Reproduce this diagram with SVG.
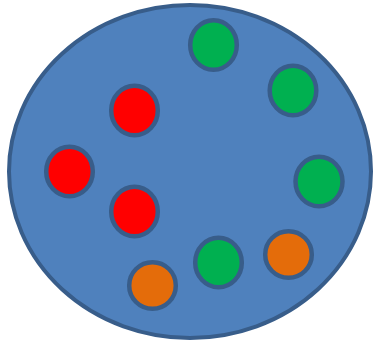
<svg xmlns="http://www.w3.org/2000/svg" width="374" height="342" viewBox="0 0 374 342">
<style>
.big{fill:#4F81BD;stroke:#385D8A;stroke-width:4}
.dot{stroke:#385D8A;stroke-width:4.5}
.g{fill:#00B050}.r{fill:#FF0000}.o{fill:#E46C0A}
</style>
<rect width="374" height="342" fill="#fff"/>
<g id="container"><ellipse class="big" cx="190" cy="171.5" rx="181" ry="166.5"/></g>
<g id="green1"><ellipse class="dot g" cx="213.5" cy="45" rx="23.3" ry="24.8"/></g>
<g id="green2"><ellipse class="dot g" cx="293" cy="90.5" rx="23.3" ry="24.8"/></g>
<g id="green3"><ellipse class="dot g" cx="319" cy="181.5" rx="23.5" ry="24.8"/></g>
<g id="green4"><ellipse class="dot g" cx="218.5" cy="262.5" rx="23.3" ry="24.8"/></g>
<g id="red1"><ellipse class="dot r" cx="134.5" cy="110.5" rx="23.3" ry="24.8"/></g>
<g id="red2"><ellipse class="dot r" cx="69.5" cy="171.5" rx="23.3" ry="24.8"/></g>
<g id="red3"><ellipse class="dot r" cx="134.5" cy="211.5" rx="23.3" ry="24.8"/></g>
<g id="orange1"><ellipse class="dot o" cx="288.5" cy="254.5" rx="23.3" ry="23.3"/></g>
<g id="orange2"><ellipse class="dot o" cx="152.5" cy="285.5" rx="23.3" ry="23.3"/></g>
<g id="connectors"></g>
</svg>
